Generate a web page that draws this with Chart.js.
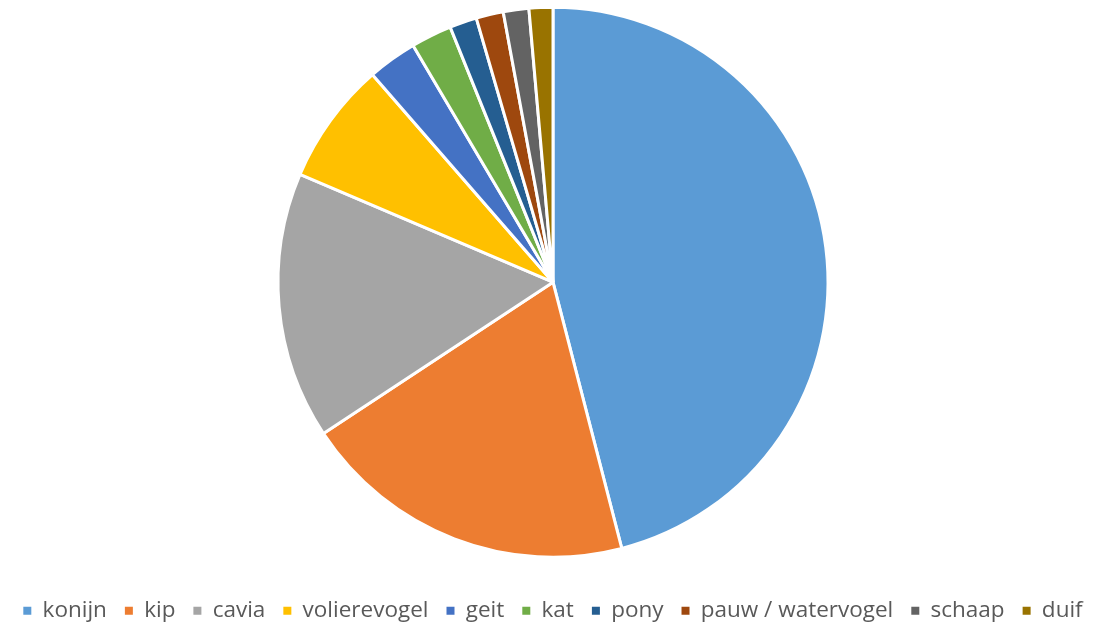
<!DOCTYPE html>
<html>
<head>
<meta charset="utf-8">
<script src="https://cdn.jsdelivr.net/npm/chart.js@4"></script>
<style>
html,body{margin:0;padding:0;background:#fff;}
#wrap{width:1109px;height:626px;}
</style>
</head>
<body>
<div id="wrap"><canvas id="c" width="1109" height="626"></canvas></div>
<script>
const categories = ["konijn","kip","cavia","volierevogel","geit","kat","pony","pauw / watervogel","schaap","duif"];
const values = [46.0, 19.75, 15.7, 7.2, 2.9, 2.4, 1.6, 1.6, 1.5, 1.4];
const colors = ["#5B9BD5","#ED7D31","#A5A5A5","#FFC000","#4472C4","#70AD47","#255E91","#9E480E","#636363","#997300"];

new Chart(document.getElementById('c'), {
  type: 'pie',
  data: {
    labels: categories,
    datasets: [{
      data: values,
      backgroundColor: colors,
      borderColor: '#ffffff',
      borderWidth: 3,
      radius: 275
    }]
  },
  options: {
    responsive: false,
    animation: false,
    layout: { padding: { top: 8, bottom: -6, left: 0, right: 3 } },
    plugins: {
      tooltip: { enabled: false },
      legend: {
        position: 'bottom',
        title: { display: true, text: ' ', padding: 0, font: { size: 21 } },
        labels: {
          boxWidth: 8,
          boxHeight: 8,
          padding: 18,
          color: '#595959',
          font: { family: 'Open Sans', size: 22.5 },
          generateLabels(chart) {
            const items = Chart.overrides.pie.plugins.legend.labels.generateLabels(chart);
            items.forEach(it => { it.lineWidth = 0; it.strokeStyle = it.fillStyle; });
            return items;
          }
        }
      }
    }
  }
});
</script>
</body>
</html>
